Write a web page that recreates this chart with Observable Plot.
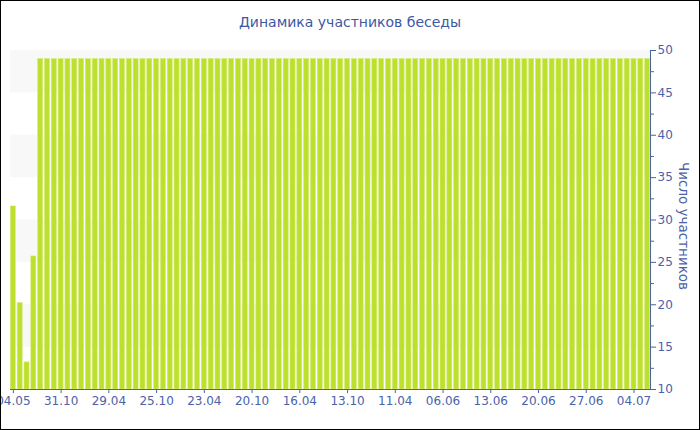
<!DOCTYPE html>
<html><head><meta charset="utf-8">
<script src="https://cdn.jsdelivr.net/npm/d3@7"></script>
<script src="https://cdn.jsdelivr.net/npm/@observablehq/plot@0.6"></script>
<style>
body{margin:0;background:#fff;}
#wrap{position:relative;width:700px;height:430px;overflow:hidden;font-family:"DejaVu Sans",sans-serif;background:#fff;}
#border{position:absolute;left:0;top:0;width:700px;height:430px;box-sizing:border-box;border:1px solid #000;pointer-events:none;}
#title{height:40px;line-height:44px;text-align:center;font-size:14px;color:#3d57a3;}
#chart svg{display:block;}
</style></head><body>
<div id="wrap"><div id="title">Динамика участников беседы</div><div id="chart"></div><div id="border"></div></div>
<script>
const participants = [31.6, 20.2, 13.2, 25.7,
  49, 49, 49, 49, 49, 49, 49, 49, 49, 49,
  49, 49, 49, 49, 49, 49, 49, 49, 49, 49,
  49, 49, 49, 49, 49, 49, 49, 49, 49, 49,
  49, 49, 49, 49, 49, 49, 49, 49, 49, 49,
  49, 49, 49, 49, 49, 49, 49, 49, 49, 49,
  49, 49, 49, 49, 49, 49, 49, 49, 49, 49,
  49, 49, 49, 49, 49, 49, 49, 49, 49, 49,
  49, 49, 49, 49, 49, 49, 49, 49, 49, 49,
  49, 49, 49, 49, 49, 49, 49, 49, 49, 49];
const tickIndex = [0, 7, 14, 21, 28, 35, 42, 49, 56, 63, 70, 77, 84, 91];
const tickLabels = ["04.05", "31.10", "29.04", "25.10", "23.04", "20.10", "16.04", "13.10", "11.04", "06.06", "13.06", "20.06", "27.06", "04.07"];
const yTicks = [10, 15, 20, 25, 30, 35, 40, 45, 50];
const yMinorTicks = [12.5, 17.5, 22.5, 27.5, 32.5, 37.5, 42.5, 47.5];
const bandLow = [15, 25, 35, 45];
const bandHigh = [20, 30, 40, 50];
const yTitle = "Число участников";

const rows = participants.map((v, i) => ({i, v}));
const bands = bandLow.map((lo, k) => ({lo, hi: bandHigh[k]}));
const blue = "#4a62a8";

const chart = Plot.plot({
  width: 700,
  height: 390,
  marginTop: 10,
  marginBottom: 41,
  marginLeft: 10,
  marginRight: 50,
  style: {fontFamily: "DejaVu Sans", fontSize: "12px", color: blue, background: "transparent"},
  x: {type: "band", domain: rows.map(d => d.i), paddingInner: 0.26, paddingOuter: 0.05, axis: null},
  y: {domain: [10, 50], axis: null},
  marks: [
    Plot.rect(bands, {y1: "lo", y2: "hi", fill: "#f8f8f8"}),
    Plot.barY(rows, {x: "i", y1: 10, y2: "v", fill: "#bde02c", stroke: "#d6ec7e", strokeWidth: 0.6}),
    Plot.ruleY([10], {stroke: blue}),
    Plot.frame({anchor: "right", stroke: blue}),
    Plot.axisY({anchor: "right", ticks: yTicks, tickSize: 5, tickPadding: 2, fontSize: 12, label: null}),
    Plot.axisY({anchor: "right", ticks: yMinorTicks, tickSize: 3, tickFormat: () => "", label: null}),
    Plot.text([yTitle], {frameAnchor: "right", textAnchor: "middle", text: d => d, rotate: 90, dx: 33, dy: 6, fontSize: 13.5, fill: blue}),
    Plot.axisX({ticks: tickIndex, tickFormat: i => tickLabels[tickIndex.indexOf(i)], tickSize: 4, tickPadding: 3, fontSize: 12, label: null})
  ]
});
document.getElementById("chart").appendChild(chart);
</script>
</body></html>
